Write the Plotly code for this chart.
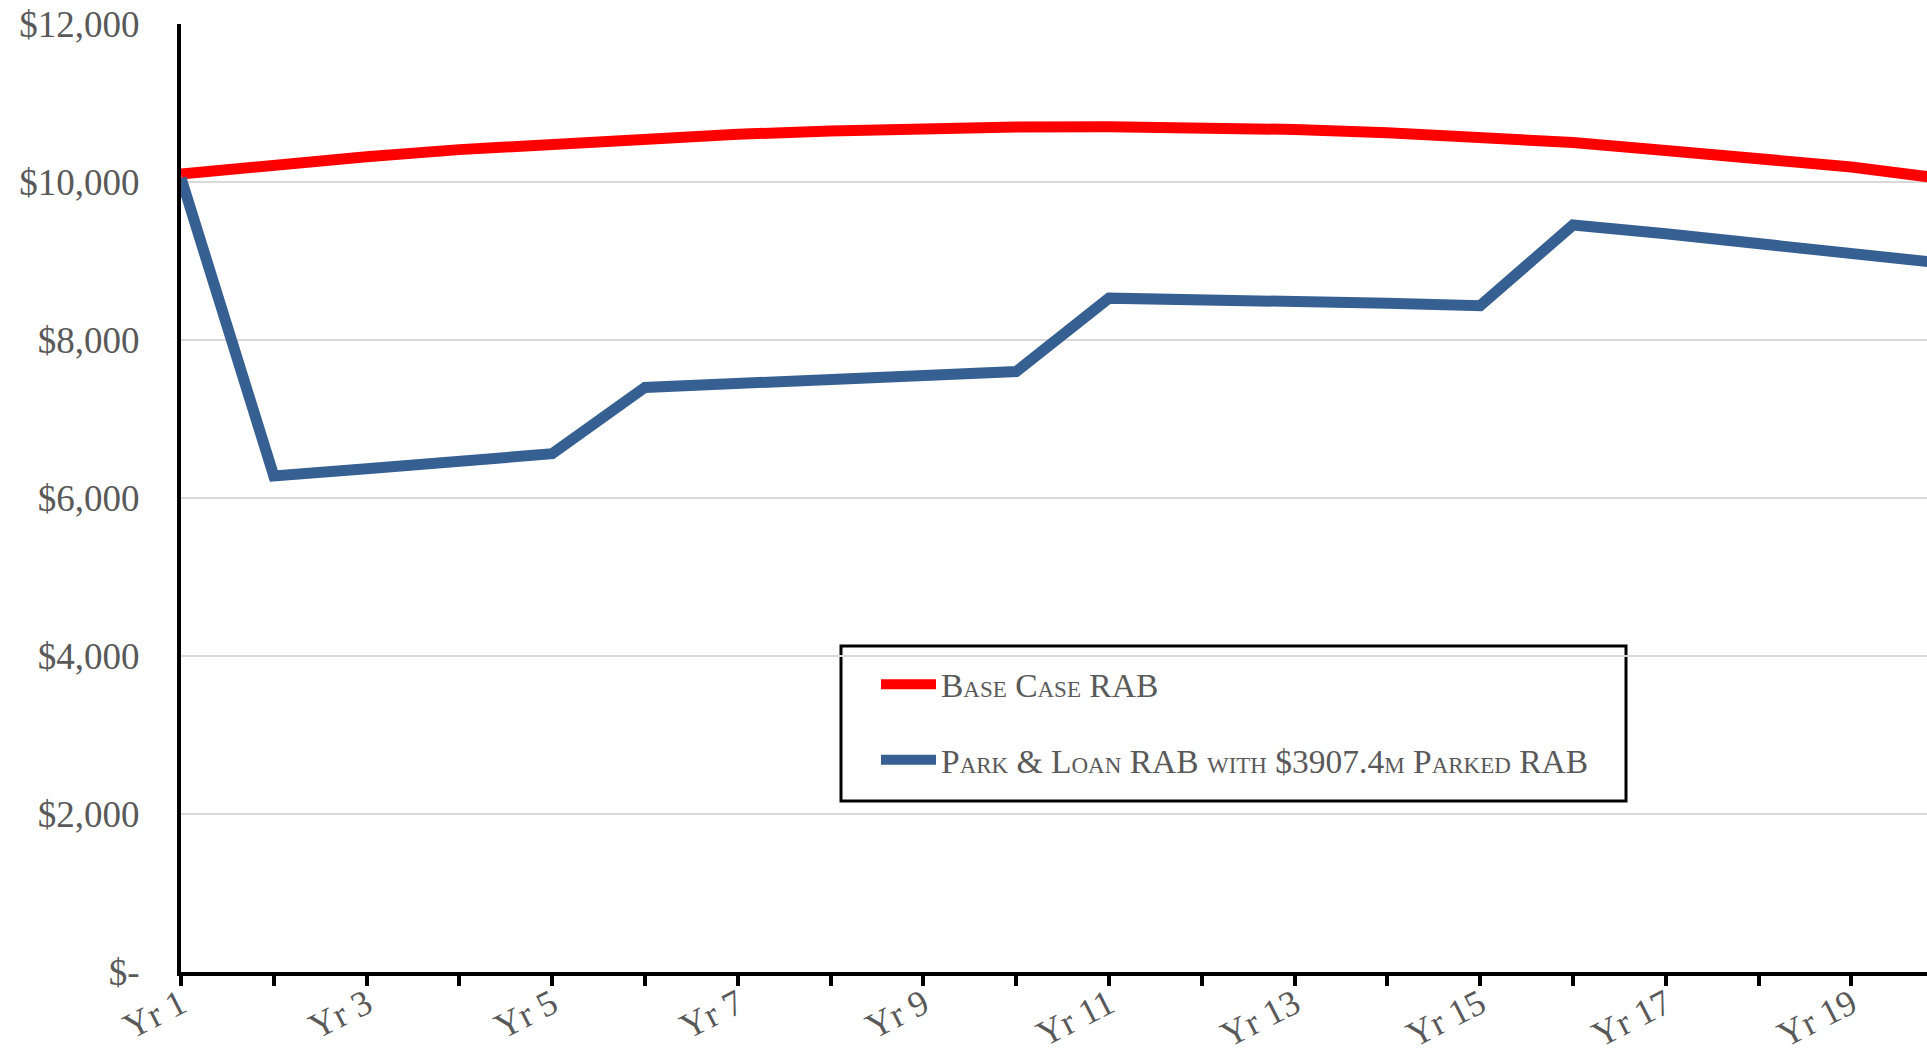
import plotly.graph_objects as go

# Regulatory asset base by year ($m)
years = [f"Yr {i}" for i in range(1, 21)]
base_case_rab = [10100, 10215, 10320, 10410, 10485, 10550, 10605, 10645, 10675, 10695,
                 10700, 10690, 10665, 10625, 10570, 10500, 10400, 10300, 10190, 10040]
park_loan_rab = [10050, 6280, 6370, 6465, 6560, 7400, 7455, 7505, 7555, 7600,
                 8530, 8515, 8495, 8465, 8435, 9455, 9345, 9230, 9110, 8970]

series_names = ["Base Case RAB", "Park & Loan RAB with $3907.4m Parked RAB"]
series_colors = ["#ff0000", "#376092"]

y_tick_vals = [0, 2000, 4000, 6000, 8000, 10000, 12000]
y_tick_text = ["$-", "$2,000", "$4,000", "$6,000", "$8,000", "$10,000", "$12,000"]
# every year gets a tick mark, every other year gets a label
x_tick_text = [y if i % 2 == 0 else "" for i, y in enumerate(years)]

FONT = "Liberation Serif"
GREY = "#595959"

fig = go.Figure()
for i, (name, vals, col) in enumerate(zip(series_names, [base_case_rab, park_loan_rab], series_colors)):
    fig.add_trace(go.Scatter(
        x=years, y=vals, mode="lines", name=name,
        line=dict(color=col, width=11),
        legendgroup=f"g{i}",
    ))

W, H = 1927, 1054
L, T, B = 181, 24, 82
plot_w = W - L
plot_h = H - T - B
y_base = H - B
cat_step = 92.8  # px between consecutive years

fig.update_layout(
    width=W, height=H,
    margin=dict(l=L, r=0, t=T, b=B, pad=0, autoexpand=False),
    paper_bgcolor="white", plot_bgcolor="white",
    showlegend=True,
    legend=dict(
        x=(876 - L) / plot_w, xanchor="left",
        y=(y_base - 656) / plot_h, yanchor="top",
        bgcolor="rgba(0,0,0,0)", borderwidth=0,
        font=dict(family=FONT, size=33.5, color=GREY, variant="small-caps"),
        traceorder="grouped", tracegroupgap=29,
        itemwidth=55,
    ),
    shapes=[dict(
        type="rect", xref="paper", yref="paper", layer="below",
        x0=(841 - L) / plot_w, x1=(1626 - L) / plot_w,
        y0=(y_base - 801) / plot_h, y1=(y_base - 646) / plot_h,
        line=dict(color="black", width=3), fillcolor="white",
    )],
    xaxis=dict(
        type="category",
        range=[0, plot_w / cat_step],
        tickmode="array", tickvals=years, ticktext=x_tick_text,
        tickangle=-27, ticklabelstandoff=-17,
        ticks="outside", ticklen=10, tickwidth=4, tickcolor="black",
        showline=True, linecolor="black", linewidth=4,
        showgrid=False, zeroline=False, automargin=False,
        tickfont=dict(family=FONT, size=36, color=GREY),
    ),
    yaxis=dict(
        range=[0, 12000],
        tickmode="array", tickvals=y_tick_vals, ticktext=y_tick_text,
        ticks="", ticklabelstandoff=30,
        showline=True, linecolor="black", linewidth=4,
        showgrid=True, gridcolor="#d9d9d9", gridwidth=1.5,
        zeroline=False, automargin=False,
        tickfont=dict(family=FONT, size=37, color=GREY),
    ),
)

fig.write_html("out.html")
